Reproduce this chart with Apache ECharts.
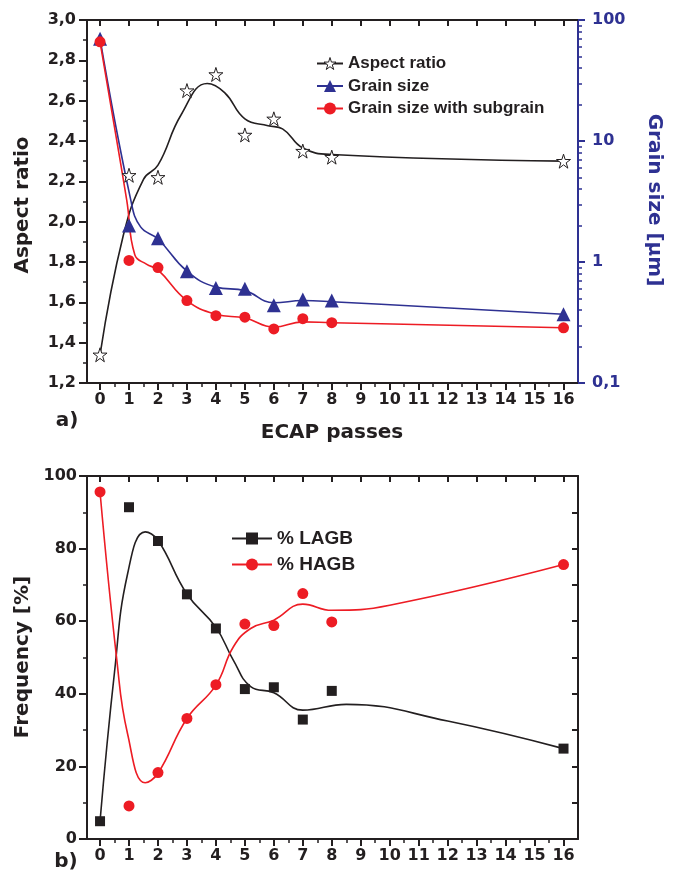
<!DOCTYPE html>
<html>
<head>
<meta charset="utf-8">
<title>ECAP passes: aspect ratio, grain size and boundary fractions</title>
<script src="https://cdn.jsdelivr.net/npm/echarts@6/dist/echarts.min.js"></script>
<style>
  html, body { margin: 0; padding: 0; background: #fff; }
  #chart { width: 673px; height: 879px; }
</style>
</head>
<body>
<div id="chart"></div>
<script>
// ---- measured values (number of ECAP passes on x) ----
const passes = [0, 1, 2, 3, 4, 5, 6, 7, 8, 16];
const aspectRatio = [1.34, 2.23, 2.22, 2.65, 2.73, 2.43, 2.51, 2.35, 2.32, 2.30];
const grainSize = [70, 2.0, 1.57, 0.84, 0.61, 0.60, 0.44, 0.49, 0.48, 0.37];
const grainSizeSubgrain = [66, 1.03, 0.90, 0.48, 0.36, 0.35, 0.28, 0.34, 0.315, 0.286];
const lagbPercent = [4.9, 91.4, 82.1, 67.4, 58.0, 41.3, 41.8, 32.9, 40.8, 24.9];
const hagbPercent = [95.6, 9.1, 18.3, 33.2, 42.5, 59.2, 58.8, 67.6, 59.8, 75.6];

// ---- fitted trend curves ----
const aspectCurveX = [0, 0.8, 1.5, 2, 2.8, 3.7, 4.3, 5, 5.8, 6.3, 7, 8, 16];
const aspectCurveY = [1.34, 1.93, 2.21, 2.28, 2.53, 2.685, 2.64, 2.51, 2.476, 2.46, 2.365, 2.333, 2.30];
const grainCurveX = [0, 1.06, 1.4, 2, 3, 4, 5, 6, 7, 8, 16];
const grainCurveY = [70, 3.26, 1.95, 1.55, 0.84, 0.62, 0.58, 0.46, 0.48, 0.47, 0.37];
const subgrainCurveX = [0, 0.92, 1.2, 1.6, 2, 3, 4, 5, 6, 7, 8, 16];
const subgrainCurveY = [66, 3.26, 1.15, 0.96, 0.86, 0.48, 0.37, 0.345, 0.29, 0.32, 0.315, 0.286];
const lagbCurveX = [0, 0.5, 0.95, 1.56, 2, 3, 4, 4.6, 5.2, 6, 7, 8.5, 12, 16];
const lagbCurveY = [4.9, 46, 73, 84.6, 82.3, 67.5, 58.3, 49.3, 42, 40.3, 35.5, 37.1, 32.5, 24.9];
const hagbCurveX = [0, 0.58, 0.95, 1.56, 2, 3, 4, 4.6, 5.2, 6, 7, 8, 10, 16];
const hagbCurveY = [95.6, 49.3, 29, 15.5, 18.1, 33.2, 42.4, 52.9, 58, 60.3, 64.7, 63, 64.4, 75.6];

// ---- tick values ----
const passTicks = [0, 1, 2, 3, 4, 5, 6, 7, 8, 9, 10, 11, 12, 13, 14, 15, 16];
const passHalfTicks = [0.5, 1.5, 2.5, 3.5, 4.5, 5.5, 6.5, 7.5, 8.5, 9.5, 10.5, 11.5, 12.5, 13.5, 14.5, 15.5];
const grainMinorTicks = [0.2, 0.3, 0.4, 0.5, 0.6, 0.7, 0.8, 0.9, 2, 3, 4, 5, 6, 7, 8, 9, 20, 30, 40, 50, 60, 70, 80, 90];

const INK = '#231f20';
const BLUE = '#2e3192';
const RED = '#ed1c24';
const TITLE_FONT = "bold 20px 'DejaVu Sans'";
const STAR = 'path://M50,0 L61.2,34.5 L97.6,34.5 L68.2,55.9 L79.4,90.5 L50,69.1 L20.6,90.5 L31.8,55.9 L2.4,34.5 L38.8,34.5 Z';

const zip = (xs, ys) => xs.map((x, i) => [x, ys[i]]);
const comma = v => v.toFixed(1).replace('.', ',');

function passAxisBottom(grid) {
  return {
    type: 'value', gridIndex: grid, position: 'bottom', min: -0.45, max: 16.5,
    axisLine: { show: true, onZero: false, lineStyle: { color: INK, width: 2 } },
    axisTick: { show: true, customValues: passTicks, length: 7, lineStyle: { color: INK, width: 2 } },
    axisLabel: { show: true, customValues: passTicks, margin: 9, color: INK,
      fontFamily: 'DejaVu Sans', fontWeight: 'bold', fontSize: 16, formatter: v => String(Math.round(v)) },
    splitLine: { show: false }
  };
}
function passAxisHalf(grid) {
  return {
    type: 'value', gridIndex: grid, position: 'bottom', min: -0.45, max: 16.5,
    axisLine: { show: false, onZero: false },
    axisTick: { show: true, customValues: passHalfTicks, length: 4, lineStyle: { color: INK, width: 1.5 } },
    axisLabel: { show: false }, splitLine: { show: false }
  };
}
function passAxisTop(grid) {
  return {
    type: 'value', gridIndex: grid, position: 'top', min: -0.45, max: 16.5,
    axisLine: { show: true, onZero: false, lineStyle: { color: INK, width: 2 } },
    axisTick: { show: true, inside: true, customValues: passTicks, length: 6, lineStyle: { color: INK, width: 2 } },
    axisLabel: { show: false }, splitLine: { show: false }
  };
}

const chart = echarts.init(document.getElementById('chart'), null, { renderer: 'canvas' });

chart.setOption({
  animation: false,
  backgroundColor: '#fff',
  grid: [
    { left: 87, right: 95, top: 20, height: 363 },
    { left: 87, right: 95, top: 476, height: 363 }
  ],
  xAxis: [
    passAxisBottom(0), passAxisHalf(0), passAxisTop(0),
    passAxisBottom(1), passAxisHalf(1), passAxisTop(1)
  ],
  yAxis: [
    { // aspect ratio
      type: 'value', gridIndex: 0, position: 'left', min: 1.2, max: 3.0, interval: 0.2,
      axisLine: { show: true, onZero: false, lineStyle: { color: INK, width: 2 } },
      axisTick: { show: true, length: 8, lineStyle: { color: INK, width: 2 } },
      minorTick: { show: true, splitNumber: 2, length: 4, lineStyle: { color: INK, width: 1.5 } },
      axisLabel: { margin: 11, color: INK, fontFamily: 'DejaVu Sans', fontWeight: 'bold', fontSize: 16, formatter: comma },
      splitLine: { show: false }
    },
    { // grain size, logarithmic
      type: 'log', logBase: 10, gridIndex: 0, position: 'right', min: 0.1, max: 100,
      axisLine: { show: true, onZero: false, lineStyle: { color: BLUE, width: 2 } },
      axisTick: { show: true, length: 7, lineStyle: { color: BLUE, width: 2 } },
      axisLabel: { margin: 14, color: BLUE, fontFamily: 'DejaVu Sans', fontWeight: 'bold', fontSize: 16,
        formatter: v => (v < 1 ? comma(v) : String(Math.round(v))) },
      splitLine: { show: false }, minorTick: { show: false }
    },
    { // minor decade ticks for the grain size axis (log10 positions)
      type: 'value', gridIndex: 0, position: 'right', min: -1, max: 2,
      axisLine: { show: false, onZero: false },
      axisTick: { show: true, customValues: grainMinorTicks.map(Math.log10), length: 4, lineStyle: { color: BLUE, width: 1.5 } },
      axisLabel: { show: false }, splitLine: { show: false }
    },
    { // frequency
      type: 'value', gridIndex: 1, position: 'left', min: 0, max: 100, interval: 20,
      axisLine: { show: true, onZero: false, lineStyle: { color: INK, width: 2 } },
      axisTick: { show: true, length: 8, lineStyle: { color: INK, width: 2 } },
      minorTick: { show: true, splitNumber: 2, length: 4, lineStyle: { color: INK, width: 1.5 } },
      axisLabel: { margin: 10, color: INK, fontFamily: 'DejaVu Sans', fontWeight: 'bold', fontSize: 16 },
      splitLine: { show: false }
    },
    { // frequency frame, right side
      type: 'value', gridIndex: 1, position: 'right', min: 0, max: 100, interval: 10,
      axisLine: { show: true, onZero: false, lineStyle: { color: INK, width: 2 } },
      axisTick: { show: true, inside: true, length: 6, lineStyle: { color: INK, width: 2 } },
      axisLabel: { show: false }, splitLine: { show: false }
    }
  ],
  legend: [
    {
      data: [
        { name: 'Aspect ratio', itemStyle: { color: '#fff', borderColor: INK, borderWidth: 1 } },
        { name: 'Grain size' },
        { name: 'Grain size with subgrain' }
      ],
      orient: 'vertical', left: 311, top: 50, itemWidth: 26, itemHeight: 15, itemGap: 5.5,
      selectedMode: false,
      textStyle: { color: INK, fontFamily: "'Liberation Sans', Arial", fontWeight: 'bold', fontSize: 17 }
    },
    {
      data: ['% LAGB', '% HAGB'],
      orient: 'vertical', left: 226, top: 524, itemWidth: 40, itemHeight: 15, itemGap: 7,
      selectedMode: false,
      textStyle: { color: INK, fontFamily: "'Liberation Sans', Arial", fontWeight: 'bold', fontSize: 19 }
    }
  ],
  series: [
    // trend curves (also the legend entries)
    { name: 'Aspect ratio', type: 'line', xAxisIndex: 0, yAxisIndex: 0, data: zip(aspectCurveX, aspectCurveY),
      smooth: 0.45, showSymbol: false, symbol: STAR, symbolSize: 13,
      itemStyle: { color: '#fff', borderColor: INK, borderWidth: 1 }, lineStyle: { color: INK, width: 1.6 }, z: 2 },
    { name: 'Grain size', type: 'line', xAxisIndex: 0, yAxisIndex: 1, data: zip(grainCurveX, grainCurveY),
      smooth: 0.45, showSymbol: false, symbol: 'triangle', symbolSize: 14,
      itemStyle: { color: BLUE }, lineStyle: { color: BLUE, width: 1.6 }, z: 2 },
    { name: 'Grain size with subgrain', type: 'line', xAxisIndex: 0, yAxisIndex: 1, data: zip(subgrainCurveX, subgrainCurveY),
      smooth: 0.45, showSymbol: false, symbol: 'circle', symbolSize: 11,
      itemStyle: { color: RED }, lineStyle: { color: RED, width: 1.6 }, z: 2 },
    { name: '% LAGB', type: 'line', xAxisIndex: 3, yAxisIndex: 3, data: zip(lagbCurveX, lagbCurveY),
      smooth: 0.45, showSymbol: false, symbol: 'rect', symbolSize: 11,
      itemStyle: { color: INK }, lineStyle: { color: INK, width: 1.6 }, z: 2 },
    { name: '% HAGB', type: 'line', xAxisIndex: 3, yAxisIndex: 3, data: zip(hagbCurveX, hagbCurveY),
      smooth: 0.45, showSymbol: false, symbol: 'circle', symbolSize: 12,
      itemStyle: { color: RED }, lineStyle: { color: RED, width: 1.6 }, z: 2 },

    // measured points
    { name: 'Aspect ratio points', type: 'scatter', xAxisIndex: 0, yAxisIndex: 0, data: zip(passes, aspectRatio),
      symbol: STAR, symbolSize: 14, itemStyle: { color: '#fff', borderColor: INK, borderWidth: 1, opacity: 1 }, z: 4 },
    { name: 'Grain size points', type: 'scatter', xAxisIndex: 0, yAxisIndex: 1, data: zip(passes, grainSize),
      symbol: 'triangle', symbolSize: 14, itemStyle: { color: BLUE, opacity: 1 }, z: 4 },
    { name: 'Subgrain points', type: 'scatter', xAxisIndex: 0, yAxisIndex: 1, data: zip(passes, grainSizeSubgrain),
      symbol: 'circle', symbolSize: 11, itemStyle: { color: RED, opacity: 1 }, z: 5 },
    { name: 'LAGB points', type: 'scatter', xAxisIndex: 3, yAxisIndex: 3, data: zip(passes, lagbPercent),
      symbol: 'rect', symbolSize: 10, itemStyle: { color: INK, opacity: 1 }, z: 4 },
    { name: 'HAGB points', type: 'scatter', xAxisIndex: 3, yAxisIndex: 3, data: zip(passes, hagbPercent),
      symbol: 'circle', symbolSize: 11, itemStyle: { color: RED, opacity: 1 }, z: 4 }
  ],
  graphic: [
    { type: 'text', x: 23, y: 205, rotation: Math.PI / 2,
      style: { text: 'Aspect ratio', font: TITLE_FONT, fill: INK, align: 'center', verticalAlign: 'middle' } },
    { type: 'text', x: 654, y: 200, rotation: -Math.PI / 2,
      style: { text: 'Grain size [\u03bcm]', font: TITLE_FONT, fill: BLUE, align: 'center', verticalAlign: 'middle' } },
    { type: 'text', x: 332, y: 433,
      style: { text: 'ECAP passes', font: TITLE_FONT, fill: INK, align: 'center', verticalAlign: 'middle' } },
    { type: 'text', x: 67, y: 421,
      style: { text: 'a)', font: TITLE_FONT, fill: INK, align: 'center', verticalAlign: 'middle' } },
    { type: 'text', x: 23, y: 657, rotation: Math.PI / 2,
      style: { text: 'Frequency [%]', font: TITLE_FONT, fill: INK, align: 'center', verticalAlign: 'middle' } },
    { type: 'text', x: 66, y: 862,
      style: { text: 'b)', font: TITLE_FONT, fill: INK, align: 'center', verticalAlign: 'middle' } }
  ]
});
</script>
</body>
</html>
